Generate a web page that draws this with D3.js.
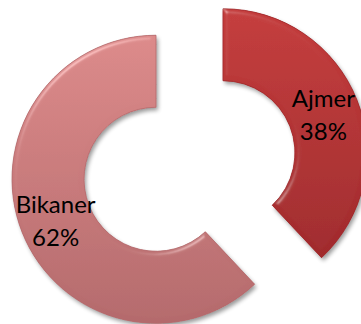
<!DOCTYPE html>
<html><head><meta charset="utf-8">
<script src="https://cdn.jsdelivr.net/npm/d3@7"></script>
<style>html,body{margin:0;padding:0;background:#fff;}svg{display:block;}</style>
</head><body>
<script>
const categories = ["Ajmer", "Bikaner"];
const values = [38, 62];
const labels = ["38%", "62%"];
const colorsTop = ["#C43C3C", "#DC8A8A"];
const colorsBottom = ["#A02A2C", "#B46A6C"];

const W = 361, H = 324;
const svg = d3.select("body").append("svg").attr("width", W).attr("height", H);
const defs = svg.append("defs");

const cx = 189.5, cy = 166, rOuter = 144, rInner = 72, explode = 36;

const f = defs.append("filter").attr("id","sh").attr("x","-20%").attr("y","-20%").attr("width","140%").attr("height","140%");
f.append("feGaussianBlur").attr("in","SourceAlpha").attr("stdDeviation",2.2).attr("result","b");
f.append("feOffset").attr("in","b").attr("dx",2).attr("dy",3).attr("result","o");
f.append("feComponentTransfer").attr("in","o").attr("result","o2").append("feFuncA").attr("type","linear").attr("slope",0.4);
const m = f.append("feMerge"); m.append("feMergeNode").attr("in","o2"); m.append("feMergeNode").attr("in","SourceGraphic");

const bev = defs.append("filter").attr("id","bev");
bev.append("feGaussianBlur").attr("in","SourceAlpha").attr("stdDeviation",2.5).attr("result","blur");
bev.append("feSpecularLighting").attr("in","blur").attr("surfaceScale",3).attr("specularConstant",0.7).attr("specularExponent",40).attr("lighting-color","#ffffff").attr("result","spec")
  .append("feDistantLight").attr("azimuth",235).attr("elevation",40);
bev.append("feComposite").attr("in","spec").attr("in2","SourceAlpha").attr("operator","in").attr("result","specIn");
bev.append("feComposite").attr("in","SourceGraphic").attr("in2","specIn").attr("operator","arithmetic").attr("k1",0).attr("k2",1).attr("k3",0.35).attr("k4",0);

categories.forEach((c,i)=>{
  const g = defs.append("linearGradient").attr("id","g"+i).attr("x1",0).attr("y1",0).attr("x2",0).attr("y2",1);
  g.append("stop").attr("offset","0%").attr("stop-color",colorsTop[i]);
  g.append("stop").attr("offset","100%").attr("stop-color",colorsBottom[i]);
});

const pie = d3.pie().sort(null).value(d=>d);
const arcs = pie(values);
const arc = d3.arc().innerRadius(rInner).outerRadius(rOuter);

const gs = svg.selectAll("g.slice").data(arcs).enter().append("g").attr("class","slice")
  .attr("transform", d=>{
    const a = (d.startAngle + d.endAngle)/2;
    return `translate(${cx + explode*Math.sin(a)},${cy - explode*Math.cos(a)})`;
  });

gs.append("path").attr("d", arc).attr("fill",(d,i)=>`url(#g${i})`)
  .attr("filter","url(#sh)");
gs.append("path").attr("d", arc).attr("fill",(d,i)=>`url(#g${i})`)
  .attr("stroke",(d,i)=>colorsBottom[i]).attr("stroke-width",0.8)
  .attr("filter","url(#bev)");

const labelArc = d3.arc().innerRadius((rInner+rOuter)/2).outerRadius((rInner+rOuter)/2);
gs.each(function(d,i){
  const [x,y] = labelArc.centroid(d);
  const t = d3.select(this).append("text").attr("text-anchor","middle")
    .attr("font-family","Lato, 'Open Sans', sans-serif").attr("font-size",24).attr("fill","#000");
  t.append("tspan").attr("x",x).attr("y",y-6).text(categories[i]);
  t.append("tspan").attr("x",x).attr("y",y+27).text(labels[i]);
});
</script>
</body></html>
